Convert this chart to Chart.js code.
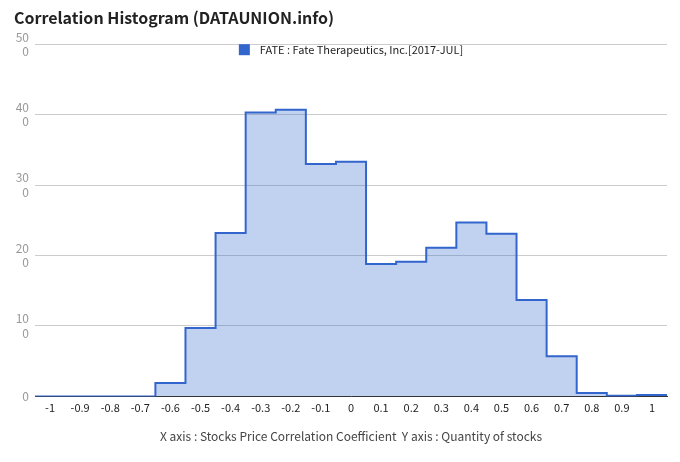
<!DOCTYPE html>
<html>
<head>
<meta charset="utf-8">
<script src="https://cdn.jsdelivr.net/npm/chart.js@4/dist/chart.umd.min.js"></script>
<style>
  html, body { margin: 0; padding: 0; background: #fff; }
  #wrap { width: 680px; height: 462px; }
</style>
</head>
<body>
<div id="wrap"><canvas id="c"></canvas></div>
<script>
// bin centres (correlation coefficient) and stock counts
const bins = [-1, -0.9, -0.8, -0.7, -0.6, -0.5, -0.4, -0.3, -0.2, -0.1, 0, 0.1, 0.2, 0.3, 0.4, 0.5, 0.6, 0.7, 0.8, 0.9, 1]
const counts = [0, 0, 0, 0, 19, 97, 232, 403, 407, 330, 333, 188, 191, 211, 247, 231, 137, 57, 5, 1, 2]
const xLabels = ['-1', '-0.9', '-0.8', '-0.7', '-0.6', '-0.5', '-0.4', '-0.3', '-0.2', '-0.1', '0', '0.1', '0.2', '0.3', '0.4', '0.5', '0.6', '0.7', '0.8', '0.9', '1']
const yTicks = [0, 100, 200, 300, 400, 500]
const seriesName = 'FATE : Fate Therapeutics, Inc.[2017-JUL]'

const half = 0.05
// step points sit on the left edge of each bin, plus one closing point
const points = bins.map((b, i) => ({x: b - half, y: counts[i]}))
points.push({x: bins[bins.length - 1] + half, y: counts[counts.length - 1]})

const font = "'Noto Sans CJK KR', 'Noto Sans', sans-serif"

// legend drawn inside the top of the plot, like the original
const insideLegend = {
    id: 'insideLegend',
    afterDraw: (chart) => {
        const ctx = chart.ctx
        const area = chart.chartArea
        ctx.save()
        ctx.font = '11px ' + font
        const w = 11 + 10 + ctx.measureText(seriesName).width
        const x0 = (area.left + area.right) / 2 - w / 2
        const top = area.top
        ctx.fillStyle = '#3366cc'
        ctx.fillRect(x0, top, 11, 11)
        ctx.fillStyle = '#222'
        ctx.textBaseline = 'middle'
        ctx.fillText(seriesName, x0 + 21, top + 6)
        ctx.restore()
    }
}

new Chart(document.getElementById('c'), {
    type: 'line',
    data: {
        datasets: [{
            label: seriesName,
            data: points,
            stepped: true,
            borderColor: '#3366cc',
            backgroundColor: 'rgba(51,102,204,0.3)',
            borderWidth: 2,
            fill: 'origin',
            pointRadius: 0
        }]
    },
    plugins: [insideLegend],
    options: {
        responsive: true,
        maintainAspectRatio: false,
        animation: false,
        layout: { padding: { left: 14, right: 13, top: 0, bottom: 14 } },
        plugins: {
            title: {
                display: true,
                text: 'Correlation Histogram (DATAUNION.info)',
                align: 'start',
                color: '#222',
                font: { family: font, size: 16, weight: 'bold' },
                padding: { top: 8, bottom: 17 }
            },
            legend: { display: false },
            tooltip: { enabled: false }
        },
        scales: {
            x: {
                type: 'linear',
                min: bins[0] - half,
                max: bins[bins.length - 1] + half,
                afterBuildTicks: (scale) => { scale.ticks = bins.map(v => ({value: v})) },
                grid: { display: false, drawTicks: false },
                border: { color: '#333', width: 1 },
                ticks: {
                    color: '#222',
                    font: { family: font, size: 11 },
                    padding: 5,
                    maxRotation: 0,
                    autoSkip: false,
                    callback: (v, i) => xLabels[i]
                },
                title: {
                    display: true,
                    text: 'X axis : Stocks Price Correlation Coefficient  Y axis : Quantity of stocks',
                    color: '#444',
                    font: { family: font, size: 12 },
                    padding: { top: 10 }
                }
            },
            y: {
                min: 0,
                max: 500,
                afterBuildTicks: (scale) => { scale.ticks = yTicks.map(v => ({value: v})) },
                afterFit: (scale) => { scale.width = 21 },
                grid: { color: '#cccccc', drawTicks: false },
                border: { display: false },
                ticks: {
                    color: '#999',
                    font: { family: font, size: 12 },
                    padding: 6,
                    callback: (v) => v >= 100 ? [String(v).slice(0, 2), String(v).slice(2)] : String(v)
                }
            }
        }
    }
})
</script>
</body>
</html>
